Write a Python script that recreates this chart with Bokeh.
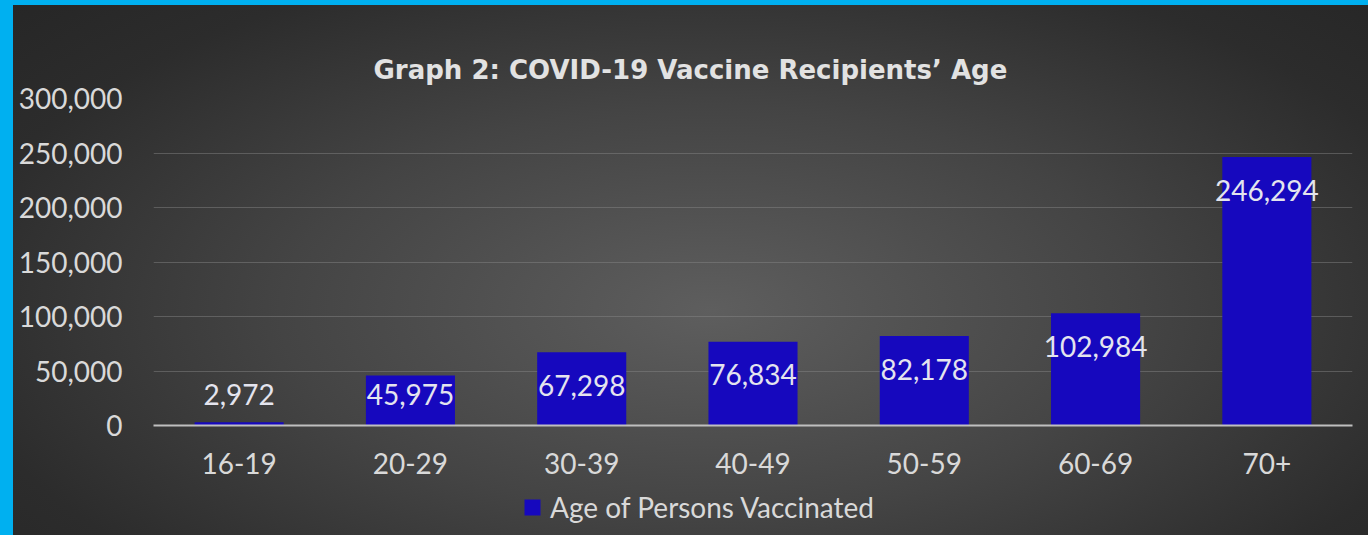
from bokeh.plotting import figure
from bokeh.layouts import column
from bokeh.models import (FixedTicker, NumeralTickFormatter, Legend, LegendItem,
                          Range1d, ColumnDataSource)
from bokeh.core.properties import value
from bokeh.embed import file_html
from bokeh.resources import INLINE
import numpy as np

categories = ["16-19", "20-29", "30-39", "40-49", "50-59", "60-69", "70+"]
vaccinated = [2972, 45975, 67298, 76834, 82178, 102984, 246294]
y_ticks = [0, 50000, 100000, 150000, 200000, 250000, 300000]
series_name = "Age of Persons Vaccinated"
title_text = "Graph 2: COVID-19 Vaccine Recipients\u2019 Age"

BAR = "#1608BE"
TXT = "#D9D9D9"

vals = np.array(vaccinated, dtype=float)
# data labels sit inside the top end of each bar (in data units)
label_y = np.maximum(vals - 30400, 28550)
labels = [f"{v:,}" for v in vaccinated]

src = ColumnDataSource(dict(cat=categories, val=vaccinated, ly=label_y, lab=labels))

p = figure(x_range=categories, y_range=Range1d(0, 300000), width=1368, height=490,
           output_backend="svg", toolbar_location=None,
           min_border_left=153, min_border_right=16, min_border_top=98,
           min_border_bottom=65)
p.background_fill_alpha = 0
p.border_fill_alpha = 0
p.outline_line_color = None

p.title.text = title_text
p.title.text_font = "DejaVu Sans"
p.title.text_font_style = "bold"
p.title.text_font_size = "26px"
p.title.text_color = "#E2E2E2"
p.title.align = "left"
p.title.offset = 220
p.title.standoff = 27

bars = p.vbar(x="cat", top="val", width=0.52, source=src, fill_color=BAR,
              line_color=None)

p.text(x="cat", y="ly", text="lab", source=src, text_align="center",
       text_baseline="middle", text_font=value("Lato"), text_font_size="28px",
       text_color="#E4E4EE")

# axes
p.yaxis.ticker = FixedTicker(ticks=y_ticks)
p.yaxis.formatter = NumeralTickFormatter(format="0,0")
p.yaxis.axis_line_color = None
p.yaxis.major_tick_line_color = None
p.yaxis.minor_tick_line_color = None
p.yaxis.major_label_standoff = 25
p.yaxis.major_label_text_font = "Lato"
p.yaxis.major_label_text_font_size = "28px"
p.yaxis.major_label_text_color = TXT

p.xaxis.axis_line_color = "#BFBFBF"
p.xaxis.axis_line_width = 2
p.xaxis.major_tick_line_color = None
p.xaxis.minor_tick_line_color = None
p.xaxis.major_label_standoff = 21
p.xaxis.major_label_text_font = "Lato"
p.xaxis.major_label_text_font_size = "28px"
p.xaxis.major_label_text_color = TXT

p.xgrid.grid_line_color = None
p.ygrid.grid_line_color = "#8a8a8a"
p.ygrid.grid_line_alpha = 0.45
p.ygrid.grid_line_width = 1

# legend strip below the chart (zero-width proxy of the same series, out of view)
p2 = figure(width=1368, height=45, x_range=p.x_range, y_range=Range1d(-20, -19),
            output_backend="svg", toolbar_location=None,
            x_axis_type=None, y_axis_type=None, min_border=0)
p2.background_fill_alpha = 0
p2.border_fill_alpha = 0
p2.outline_line_color = None
p2.grid.visible = False
proxy = p2.vbar(x="cat", top="val", width=0, source=src, fill_color=BAR,
                line_color=None)
legend = Legend(items=[LegendItem(label=series_name, renderers=[proxy], index=0)],
                orientation="horizontal", location=(369, 11),
                background_fill_alpha=0, border_line_color=None,
                label_text_font="Lato", label_text_font_size="28px",
                label_text_color=TXT, glyph_width=20, glyph_height=20,
                label_standoff=8, padding=0, margin=0)
p2.add_layout(legend)

layout = column(p, p2, spacing=0)
layout.styles = {"background": ("linear-gradient(to right, #00B0F0 13px, transparent 13px), "
                                "linear-gradient(to bottom, #00B0F0 5px, transparent 5px), "
                                "radial-gradient(ellipse 70% 85% at 52% 58%, #5e5e5e 0%, #444444 45%, #2c2c2c 80%, #262626 100%)")}

open("out.html", "w").write(file_html(layout, INLINE))
